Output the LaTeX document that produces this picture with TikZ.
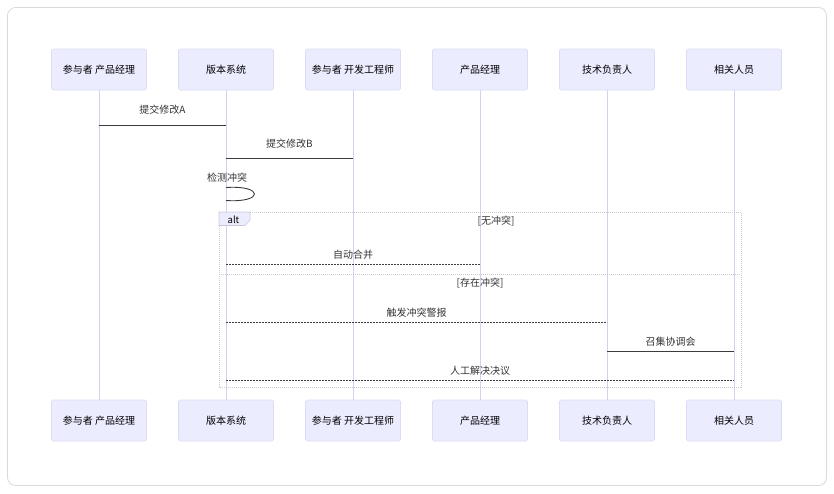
\documentclass[tikz,border=0pt]{standalone}
\usepackage{fontspec}
\setmainfont{Noto Sans CJK SC}
\begin{document}
\begin{tikzpicture}[x=1pt,y=-1pt,
  actorbox/.style={draw=actorline,fill=actorfill,minimum width=95pt,minimum height=41pt,rounded corners=1.5pt,font=\fontsize{10}{12}\selectfont,inner sep=0pt,line width=0.6pt},
  lifeline/.style={draw=lifecol,line width=0.9pt},
  msg/.style={draw=msgcol,line width=1pt},
  dmsg/.style={draw=msgcol,line width=1pt,dash pattern=on 2pt off 1pt},
  lbl/.style={font=\fontsize{10}{12}\selectfont,text=labcol,inner sep=0pt},
  altframe/.style={draw=framecol,line width=0.8pt,dash pattern=on 1pt off 1pt},
]
\definecolor{actorfill}{HTML}{ECECFF}
\definecolor{actorline}{HTML}{DCDCF4}
\definecolor{lifecol}{HTML}{D2D2EE}
\definecolor{msgcol}{HTML}{3C3C3C}
\definecolor{labcol}{HTML}{333333}
\definecolor{framecol}{HTML}{C8C8D8}
\definecolor{outercol}{HTML}{DADADA}

\useasboundingbox (0,0) rectangle (834,493);
\draw[outercol,line width=0.8pt,rounded corners=8pt] (7.5,7.5) rectangle (826.5,485.5);

% actors
\foreach \n/\x/\t in {a/99/参与者 产品经理, b/226/版本系统, c/353/参与者 开发工程师, d/480/产品经理, e/607/技术负责人, f/734/相关人员}{
  \node[actorbox] (\n top) at (\x,69.5) {\t};
  \node[actorbox] (\n bot) at (\x,420.5) {\t};
  \draw[lifeline] (\n top.south) -- (\n bot.north);
}

% alt frame
\draw[altframe] (219,212) rectangle (741,387);
\draw[altframe] (219,274) -- (741,274);
\node[lbl] (altcond1) at (496,221) {[无冲突]};
\node[lbl] (altcond2) at (480,283) {[存在冲突]};
\draw[draw=framecol,fill=actorfill,line width=0.6pt] (219,212) -- (250,212) -- (250,220) -- (245,225.5) -- (219,225.5) -- cycle;
\node[lbl,font=\fontsize{9.5}{10}\selectfont,text=black] (altlbl) at (233.5,219.5) {alt};

% coordinates on lifelines
\foreach \n/\x in {a/99,b/226,c/353,d/480,e/607,f/734}{
  \coordinate (\n1) at (\x,125);
  \coordinate (\n2) at (\x,158);
  \coordinate (\n3) at (\x,264);
  \coordinate (\n4) at (\x,322);
  \coordinate (\n5) at (\x,351);
  \coordinate (\n6) at (\x,380);
}

% messages
\node[lbl] (m1) at (162.5,110) {提交修改A};
\draw[msg] (a1) -- (b1);
\node[lbl] (m2) at (289.5,144) {提交修改B};
\draw[msg] (b2) -- (c2);
\node[lbl] (m3) at (227,178) {检测冲突};
\coordinate (lp1) at (226,187.5);
\coordinate (lp2) at (226,200.5);
\draw[msg,line width=0.9pt] (lp1) .. controls (264,185) and (264,203) .. (lp2);
\node[lbl] (m4) at (353,255) {自动合并};
\draw[dmsg] (b3) -- (d3);
\node[lbl] (m5) at (416.5,313) {触发冲突警报};
\draw[dmsg] (b4) -- (e4);
\node[lbl] (m6) at (670.5,342) {召集协调会};
\draw[msg] (e5) -- (f5);
\node[lbl] (m7) at (480,371) {人工解决决议};
\draw[dmsg] (b6) -- (f6);
\end{tikzpicture}
\end{document}
